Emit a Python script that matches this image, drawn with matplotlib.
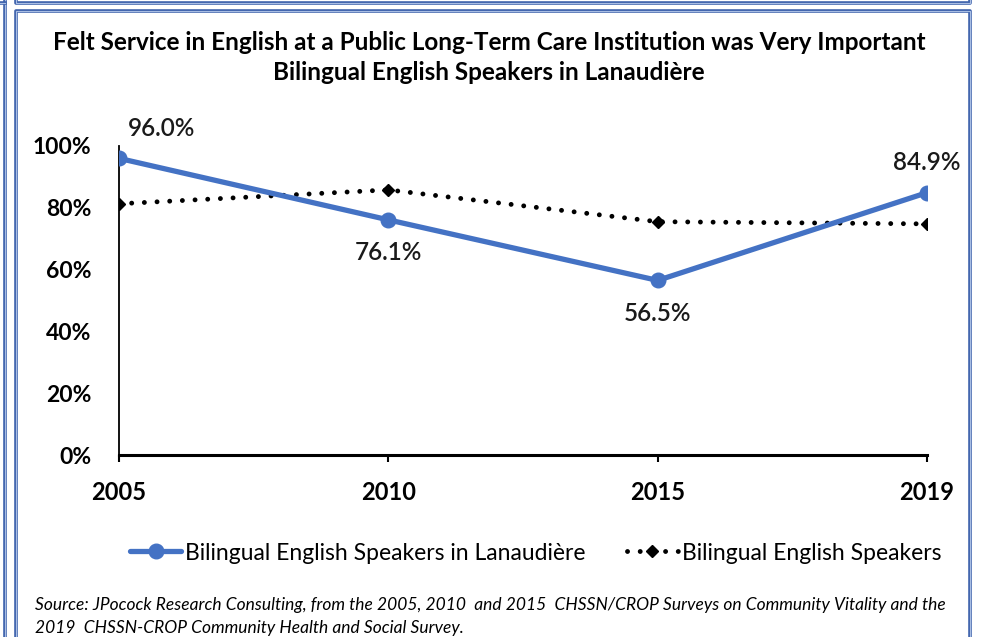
import matplotlib
matplotlib.use("Agg")
import matplotlib.pyplot as plt
from matplotlib.lines import Line2D

years = ["2005", "2010", "2015", "2019"]
lanaudiere = [96.0, 76.1, 56.5, 84.9]
bilingual = [81.3, 85.8, 75.5, 74.8]
label_text = ["96.0%", "76.1%", "56.5%", "84.9%"]

title = ("Felt Service in English at a Public Long-Term Care Institution was Very Important\n"
         "Bilingual English Speakers in Lanaudière")
source = ("Source: JPocock Research Consulting, from the 2005, 2010  and 2015  CHSSN/CROP Surveys on Community Vitality and the\n"
          "2019  CHSSN-CROP Community Health and Social Survey.")

W, H = 981, 637
plt.rcParams['font.family'] = ['Lato', 'DejaVu Sans']

fig = plt.figure(figsize=(W / 100, H / 100), dpi=100)


def fx(px):
    return px / W


def fy(py):
    return 1 - py / H


# frame lines of the slide boxes
def border(xs, ys):
    xs = [fx(v) for v in xs]
    ys = [fy(v) for v in ys]
    fig.add_artist(Line2D(xs, ys, color='#3F63AD', lw=2.6, transform=fig.transFigure))
    fig.add_artist(Line2D(xs, ys, color='#A8BDE3', lw=0.8, transform=fig.transFigure))


border([16, 16, 970, 970], [640, 11, 11, 640])
border([16, 16, 970, 970], [-5, 3, 3, -5])
border([5, 5], [-5, 640])
border([-5, 5], [3, 3])

ax = fig.add_axes([fx(119), fy(455), fx(927) - fx(119), (455 - 146) / H])
x = list(range(len(years)))

ax.plot(x, bilingual, color='black', lw=3.5, linestyle=(0, (0.01, 2.6)),
        dash_capstyle='round', marker='D', markersize=6.5, markerfacecolor='black',
        markeredgecolor='black', label='Bilingual English Speakers')
ax.plot(x, lanaudiere, color='#4472C4', lw=3.8, marker='o', markersize=10.5,
        solid_capstyle='round', label='Bilingual English Speakers in Lanaudière')

ax.set_xlim(0, len(years) - 1)
ax.set_ylim(0, 100)
ax.set_xticks(x)
ax.set_xticklabels(years, fontsize=17, fontweight='bold')
ax.set_yticks([0, 20, 40, 60, 80, 100])
ax.set_yticklabels([f"{v}%" for v in [0, 20, 40, 60, 80, 100]], fontsize=16.5, fontweight='bold')
ax.tick_params(axis='y', length=0, pad=20)
ax.tick_params(axis='x', length=5, width=1.5, direction='out', pad=14)
for s in ['top', 'right']:
    ax.spines[s].set_visible(False)
ax.spines['left'].set_linewidth(1.3)
ax.spines['bottom'].set_linewidth(2.2)
ax.spines['left'].set_zorder(0)

offsets = [(43, 30), (0, -33), (0, -33), (0, 30)]
for i, (v, t) in enumerate(zip(lanaudiere, label_text)):
    ax.annotate(t, (i, v), xytext=offsets[i], textcoords='offset pixels',
                ha='center', va='center', fontsize=17.5, fontweight='semibold',
                color='#1a1a1a', clip_on=False)

tl = title.split("\n")
fig.text(fx(489), fy(42), tl[0], ha='center', va='center', fontsize=17.5, fontweight='bold')
fig.text(fx(489), fy(73), tl[1], ha='center', va='center', fontsize=17.5, fontweight='bold')

handles, labels = ax.get_legend_handles_labels()
fig.legend(handles[::-1], labels[::-1], loc='center', bbox_to_anchor=(fx(536), fy(553)),
           ncol=2, frameon=False, fontsize=16.5, handlelength=2.2, columnspacing=1.8,
           handletextpad=0.2)

sl = source.split("\n")
fig.text(fx(35), fy(605), sl[0], ha='left', va='center', fontsize=12.5, style='italic')
fig.text(fx(35), fy(628), sl[1], ha='left', va='center', fontsize=12.5, style='italic')

fig.savefig("out.png", dpi=100)
